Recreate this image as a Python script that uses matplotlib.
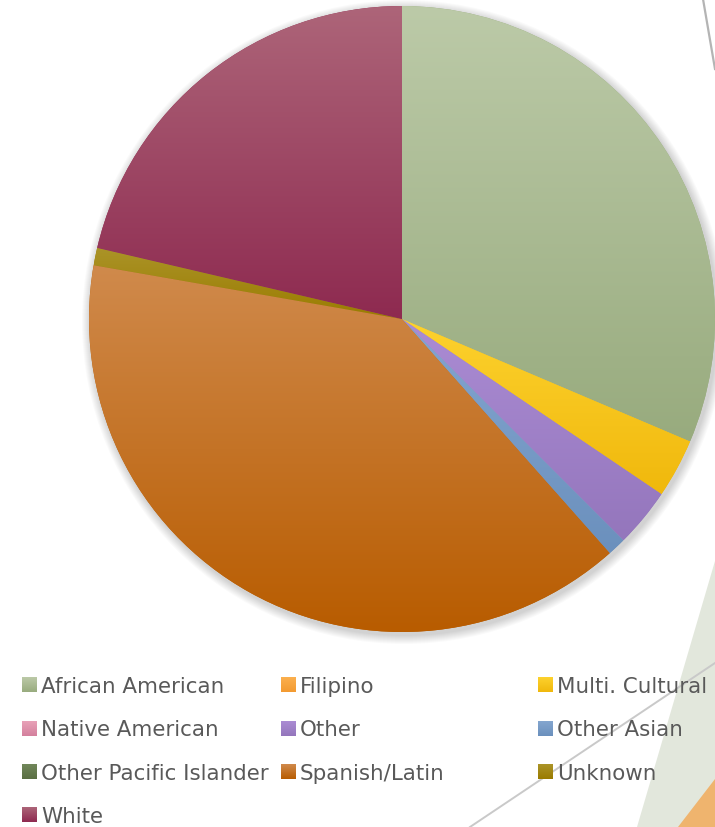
import numpy as np
import matplotlib.pyplot as plt
from matplotlib.patches import Rectangle, Polygon, Circle
from matplotlib.colors import to_rgb

labels = ['African American', 'Filipino', 'Multi. Cultural',
          'Native American', 'Other', 'Other Asian',
          'Other Pacific Islander', 'Spanish/Latin', 'Unknown', 'White']
values = [31.4, 0, 3.05, 0, 3.05, 0.95, 0, 39.3, 0.9, 21.35]
top_colors = ['#bccaa8', '#fbb04f', '#fdd22e', '#e8a2b8', '#ab8cd4',
              '#84a6cf', '#71875a', '#d08a4c', '#ab9428', '#ad6579']
bottom_colors = ['#98ab7e', '#f39a30', '#f0b80c', '#d4809d', '#9476bc',
                 '#6b90bd', '#5a6f43', '#b85c00', '#9a7b00', '#8e2a50']

W, H = 715, 828
fig = plt.figure(figsize=(W / 100, H / 100), dpi=100)
ax = fig.add_axes([0, 0, 1, 1])


def gradient_fill(ax, patch, top, bottom, x0, x1, y0, y1):
    # vertical gradient clipped to the patch
    t = np.linspace(0, 1, 256)[:, None]
    c0 = np.array(to_rgb(bottom))
    c1 = np.array(to_rgb(top))
    img = (c0 + (c1 - c0) * t).reshape(256, 1, 3)
    im = ax.imshow(img, extent=(x0, x1, y0, y1), origin='lower',
                   aspect='auto', interpolation='bilinear', zorder=3)
    im.set_clip_path(patch)


# slide decorations in the background
ax.add_patch(Polygon([(715, H - 562), (637, 0), (715, 0)],
                     closed=True, facecolor='#e2e7dc', edgecolor='none', zorder=0))
ax.add_patch(Polygon([(715, H - 780), (678, 0), (715, 0)],
                     closed=True, facecolor='#efb46e', edgecolor='none', zorder=0.5))
ax.plot([470, 715], [0, H - 664], color='#c9c9c9', lw=1.4, zorder=0.6)
ax.plot([703, 715], [H, H - 70], color='#b4b4b4', lw=1.6, zorder=0.6)

cx, cy, r = 402, H - 320, 313

# soft shadow around the pie
for k in range(1, 10):
    ax.add_patch(Circle((cx + 2, cy - 3), r + k, facecolor='black',
                        edgecolor='none', alpha=0.018, zorder=1))

wedges, _ = ax.pie(values, startangle=90, counterclock=False,
                   center=(cx, cy), radius=r, colors=bottom_colors,
                   wedgeprops=dict(linewidth=0), normalize=True)
for w, v, tc, bc in zip(wedges, values, top_colors, bottom_colors):
    w.set_zorder(2)
    if v <= 0:
        w.set_visible(False)
        continue
    bb = w.get_path().get_extents()
    gradient_fill(ax, w, tc, bc, bb.x0, bb.x1, bb.y0, bb.y1)

# legend, three columns, row-major
col_x = [22, 281, 538]
row_base = [693, 736.5, 780, 823]
sq = 15
for i, lab in enumerate(labels):
    x = col_x[i % 3]
    yb = H - row_base[i // 3]
    rect = Rectangle((x, yb), sq, sq, facecolor=bottom_colors[i],
                     edgecolor='none', zorder=3)
    ax.add_patch(rect)
    gradient_fill(ax, rect, top_colors[i], bottom_colors[i], x, x + sq, yb, yb + sq)
    ax.text(x + sq + 4, yb, lab, fontsize=15.4, color='#595959',
            family='DejaVu Sans', va='baseline', ha='left', zorder=4)

ax.set_xlim(0, W)
ax.set_ylim(0, H)
ax.axis('off')

plt.savefig('out.png', dpi=100)
